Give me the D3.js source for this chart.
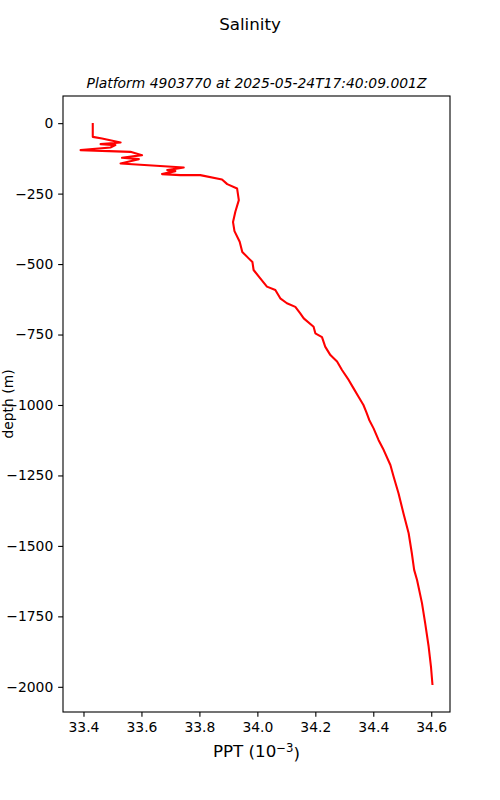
<!DOCTYPE html>
<html>
<head>
<meta charset="utf-8">
<script src="https://cdn.jsdelivr.net/npm/d3@7"></script>
<style>
  body { margin: 0; background: #fff; }
  text { font-family: "DejaVu Sans", sans-serif; fill: #000; }
</style>
</head>
<body>
<script>
// Salinity profile (PPT, depth in m)
var salinity = [
  33.432, 33.432, 33.464, 33.528, 33.459, 33.510, 33.493, 33.390, 33.562, 33.602,
  33.533, 33.591, 33.528, 33.746, 33.689, 33.717, 33.671, 33.734, 33.803, 33.878,
  33.896, 33.930, 33.936, 33.924, 33.916, 33.921, 33.939, 33.948, 33.970, 33.983,
  33.987, 34.010, 34.033, 34.062, 34.079, 34.102, 34.131, 34.148, 34.160, 34.194,
  34.200, 34.223, 34.234, 34.252, 34.275, 34.292, 34.315, 34.332, 34.349, 34.366,
  34.376, 34.386, 34.401, 34.418, 34.436, 34.459, 34.470, 34.487, 34.504, 34.522,
  34.533, 34.541, 34.551, 34.568, 34.579, 34.591, 34.599, 34.604
];
var depth = [
  -3, -48.6, -54.3, -68.4, -74.5, -78, -86.2, -95.7, -101.8, -113.5,
  -123, -127.7, -142.9, -157.1, -166.7, -170.2, -180.9, -184.4, -184.4, -199.6,
  -216.3, -231.6, -273, -314.5, -351, -383, -420.9, -457, -479.8, -493,
  -521, -551, -580, -592, -621.6, -639, -652, -675, -692.6, -722.3,
  -745.7, -759, -793, -823, -846, -876, -911, -941, -970.6, -1000,
  -1025, -1053, -1083, -1124, -1160, -1213, -1254, -1313, -1384, -1455,
  -1526, -1585, -1621, -1703, -1774, -1857, -1928, -1990
];
var xTicks = [33.4, 33.6, 33.8, 34.0, 34.2, 34.4, 34.6];
var yTicks = [0, -250, -500, -750, -1000, -1250, -1500, -1750, -2000];

var svgWidth = 500;
var svgHeight = 800;
var margin = { top: 96, right: 50, bottom: 88, left: 63 };
var width = svgWidth - margin.left - margin.right;
var height = svgHeight - margin.top - margin.bottom;

var svg = d3.select("body")
  .append("svg")
  .attr("width", svgWidth)
  .attr("height", svgHeight);

var chartGroup = svg.append("g")
  .attr("transform", `translate(${margin.left}, ${margin.top})`);

// matplotlib-style 5% margins
function padded(values) {
  var lo = d3.min(values), hi = d3.max(values);
  var pad = (hi - lo) * 0.05;
  return [lo - pad, hi + pad];
}

var xLinearScale = d3.scaleLinear()
  .domain(padded(salinity))
  .range([0, width]);

var yLinearScale = d3.scaleLinear()
  .domain(padded(depth))
  .range([height, 0]);

var tickLen = 4.86;

var bottomAxis = d3.axisBottom(xLinearScale)
  .tickValues(xTicks)
  .tickFormat(d3.format(".1f"))
  .tickSizeInner(tickLen)
  .tickSizeOuter(0)
  .tickPadding(tickLen);

var leftAxis = d3.axisLeft(yLinearScale)
  .tickValues(yTicks)
  .tickFormat(d3.format("d"))
  .tickSizeInner(tickLen)
  .tickSizeOuter(0)
  .tickPadding(tickLen);

var xAxis = chartGroup.append("g")
  .attr("transform", `translate(0, ${height})`)
  .call(bottomAxis);

var yAxis = chartGroup.append("g")
  .call(leftAxis);

[xAxis, yAxis].forEach(function(ax) {
  ax.select(".domain").remove();
  ax.selectAll(".tick line").attr("stroke", "#000").attr("stroke-width", 1.1);
  ax.selectAll(".tick text")
    .attr("fill", "#000")
    .style("font-family", "'DejaVu Sans', sans-serif")
    .style("font-size", "13.9px");
});

// profile line
var points = salinity.map(function(s, i) { return [s, depth[i]]; });
var line = d3.line()
  .x(d => xLinearScale(d[0]))
  .y(d => yLinearScale(d[1]));

chartGroup.append("path")
  .datum(points)
  .attr("d", line)
  .attr("fill", "none")
  .attr("stroke", "red")
  .attr("stroke-width", 2.08)
  .attr("stroke-linejoin", "round")
  .attr("stroke-linecap", "square");

// frame
chartGroup.append("rect")
  .attr("width", width)
  .attr("height", height)
  .attr("fill", "none")
  .attr("stroke", "#000")
  .attr("stroke-width", 1.1);

// titles
svg.append("text")
  .attr("x", svgWidth / 2)
  .attr("y", 30)
  .attr("text-anchor", "middle")
  .style("font-size", "16.7px")
  .text("Salinity");

svg.append("text")
  .attr("x", margin.left + width / 2)
  .attr("y", 88)
  .attr("text-anchor", "middle")
  .style("font-size", "13.9px")
  .style("font-style", "italic")
  .text("Platform 4903770 at 2025-05-24T17:40:09.001Z");

var xLabel = svg.append("text")
  .attr("x", margin.left + width / 2)
  .attr("y", 757)
  .attr("text-anchor", "middle")
  .style("font-size", "16.7px");
xLabel.append("tspan").text("PPT (10");
xLabel.append("tspan")
  .attr("dy", "-0.45em")
  .style("font-size", "11.7px")
  .text("\u22123");
xLabel.append("tspan")
  .attr("dy", "0.45em")
  .text(")");

svg.append("text")
  .attr("transform", `translate(8, ${margin.top + height / 2}) rotate(-90)`)
  .attr("text-anchor", "middle")
  .attr("dy", "0.35em")
  .style("font-size", "13.9px")
  .text("depth (m)");
</script>
</body>
</html>
